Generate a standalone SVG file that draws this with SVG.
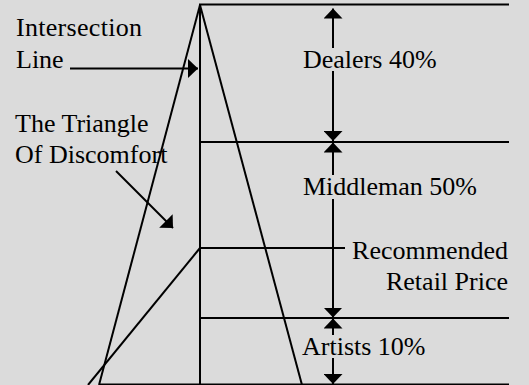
<svg xmlns="http://www.w3.org/2000/svg" width="529" height="385" viewBox="0 0 529 385">
<style>
.ln{stroke:#000;stroke-width:2;fill:none}
.ar{stroke:#000;stroke-width:2;fill:none;marker-end:url(#ah)}
.t{font-family:'Liberation Serif','DejaVu Serif',serif;font-size:26px;fill:#000}
</style>
<defs>
<marker id="ah" markerUnits="userSpaceOnUse" markerWidth="10" markerHeight="19" refX="10" refY="9.5" orient="auto" viewBox="0 0 10 19">
<path d="M0,0 L10,9.5 L0,19 z" fill="#000"/>
</marker>
</defs>
<rect x="0" y="0" width="529" height="385" fill="#dbdbdb"/>
<g id="structure">
<line class="ln" x1="200" y1="4" x2="200" y2="386"/>
<line class="ln" x1="199" y1="4.5" x2="509" y2="4.5"/>
<line class="ln" x1="200" y1="142" x2="509" y2="142"/>
<line class="ln" x1="200" y1="248" x2="345" y2="248"/>
<line class="ln" x1="200" y1="318" x2="509" y2="318"/>
<line class="ln" x1="100" y1="384.5" x2="509" y2="384.5"/>
<line class="ln" x1="200" y1="5" x2="99" y2="385"/>
<line class="ln" x1="200" y1="5" x2="302" y2="385"/>
<line class="ln" x1="200" y1="248" x2="88" y2="385"/>
</g>
<g id="intersection-label" class="t" font-family="Liberation Serif, serif">
<text x="16" y="36" textLength="126">Intersection</text>
<text x="16" y="68">Line</text>
</g>
<g id="triangle-label" class="t" font-family="Liberation Serif, serif">
<text x="15" y="132">The Triangle</text>
<text x="15" y="163">Of Discomfort</text>
</g>
<g id="dealers" class="t" font-family="Liberation Serif, serif">
<text x="303" y="68">Dealers 40%</text>
</g>
<g id="middleman" class="t" font-family="Liberation Serif, serif">
<text x="303" y="195">Middleman 50%</text>
</g>
<g id="rrp" class="t" font-family="Liberation Serif, serif">
<text x="508" y="259" text-anchor="end">Recommended</text>
<text x="508" y="290" text-anchor="end">Retail Price</text>
</g>
<g id="artists" class="t" font-family="Liberation Serif, serif">
<text x="302" y="355">Artists 10%</text>
</g>
<g id="connectors">
<line class="ar" x1="70" y1="68.5" x2="198" y2="68.5"/>
<line class="ar" x1="116" y1="171" x2="173" y2="228"/>
<line class="ar" x1="333" y1="48" x2="333" y2="8.5"/>
<line class="ar" x1="333" y1="71" x2="333" y2="141"/>
<line class="ar" x1="333" y1="175" x2="333" y2="142.5"/>
<line class="ar" x1="333" y1="199" x2="333" y2="317.5"/>
<line class="ar" x1="333" y1="335" x2="333" y2="318.5"/>
<line class="ar" x1="333" y1="358" x2="333" y2="384"/>
</g>
</svg>
